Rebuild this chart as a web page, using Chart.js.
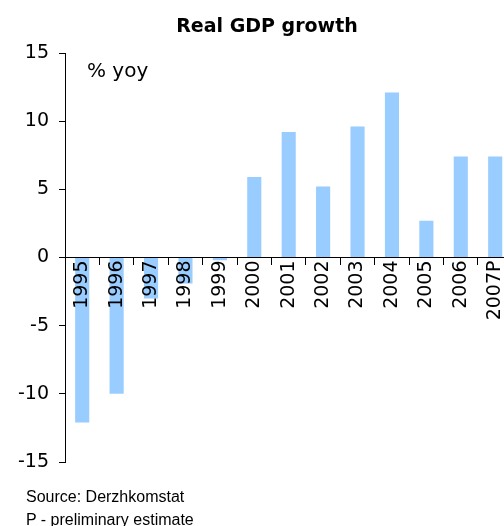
<!DOCTYPE html>
<html lang="en">
<head>
  <meta charset="UTF-8">
  <title>Real GDP growth</title>
  <script src="https://cdn.jsdelivr.net/npm/chart.js"></script>
  <style>
    html, body {
      margin: 0;
      padding: 0;
      background: #ffffff;
      overflow: hidden;
    }

    .wrap {
      position: relative;
      width: 504px;
      height: 526px;
      overflow: hidden;
    }

    #gdpChart {
      position: absolute;
      left: 0;
      top: 0;
    }

    .txt {
      position: absolute;
      white-space: nowrap;
      color: #000;
    }

    .title {
      left: 267px;
      top: 16px;
      transform: translateX(-50%);
      font: bold 19px/19px "DejaVu Sans", sans-serif;
    }

    .unit {
      left: 87px;
      top: 60px;
      font: 20px/20px "DejaVu Sans", sans-serif;
    }

    .note {
      left: 26px;
      font: 16px/16px "Liberation Sans", Arial, sans-serif;
    }
  </style>
</head>
<body>
  <div class="wrap">
    <canvas id="gdpChart" width="514" height="526"></canvas>
    <div class="txt title">Real GDP growth</div>
    <div class="txt unit">% yoy</div>
    <div class="txt note" style="top:489px;">Source: Derzhkomstat</div>
    <div class="txt note" style="top:512px;">P - preliminary estimate</div>
  </div>

  <script>
    // yearly figures, % yoy
    const years = ["1995", "1996", "1997", "1998", "1999", "2000", "2001",
                   "2002", "2003", "2004", "2005", "2006", "2007P"];
    const gdpGrowth = [-12.1, -10.0, -3.0, -1.9, -0.2, 5.9, 9.2,
                       5.2, 9.6, 12.1, 2.7, 7.4, 7.4];
    const yTicks = [-15, -10, -5, 0, 5, 10, 15];

    const ctx = document.getElementById("gdpChart").getContext("2d");
    new Chart(ctx, {
      type: "bar",
      data: {
        labels: years,
        datasets: [{
          data: gdpGrowth,
          backgroundColor: "#99ccff",
          borderWidth: 0,
          barPercentage: 0.41,
          categoryPercentage: 1.0
        }]
      },
      options: {
        responsive: false,
        animation: false,
        layout: {
          padding: { top: 53, bottom: 64, left: 0, right: 0 }
        },
        plugins: {
          legend: { display: false },
          title: { display: false },
          tooltip: { enabled: false }
        },
        scales: {
          x: {
            // axis sits on the zero line, year labels drawn over the bars
            position: { y: 0 },
            offset: true,
            border: { display: true, color: "#000", width: 1, z: 1 },
            grid: {
              display: true,
              offset: true,
              drawOnChartArea: false,
              drawTicks: true,
              tickLength: 7,
              tickColor: "#000",
              z: 1
            },
            ticks: {
              color: "#000",
              font: { family: "DejaVu Sans", size: 19 },
              minRotation: 90,
              maxRotation: 90,
              autoSkip: false,
              padding: -4,
              z: 1
            }
          },
          y: {
            min: yTicks[0],
            max: yTicks[yTicks.length - 1],
            afterFit: (s) => { s.width = 65; },
            afterBuildTicks: (s) => { s.ticks = yTicks.map(v => ({ value: v })); },
            border: { display: true, color: "#000", width: 1 },
            grid: {
              display: true,
              drawOnChartArea: false,
              drawTicks: true,
              tickLength: 6,
              tickColor: "#000"
            },
            ticks: {
              color: "#000",
              font: { family: "DejaVu Sans", size: 19 },
              padding: 10
            }
          }
        }
      }
    });
  </script>
</body>
</html>
